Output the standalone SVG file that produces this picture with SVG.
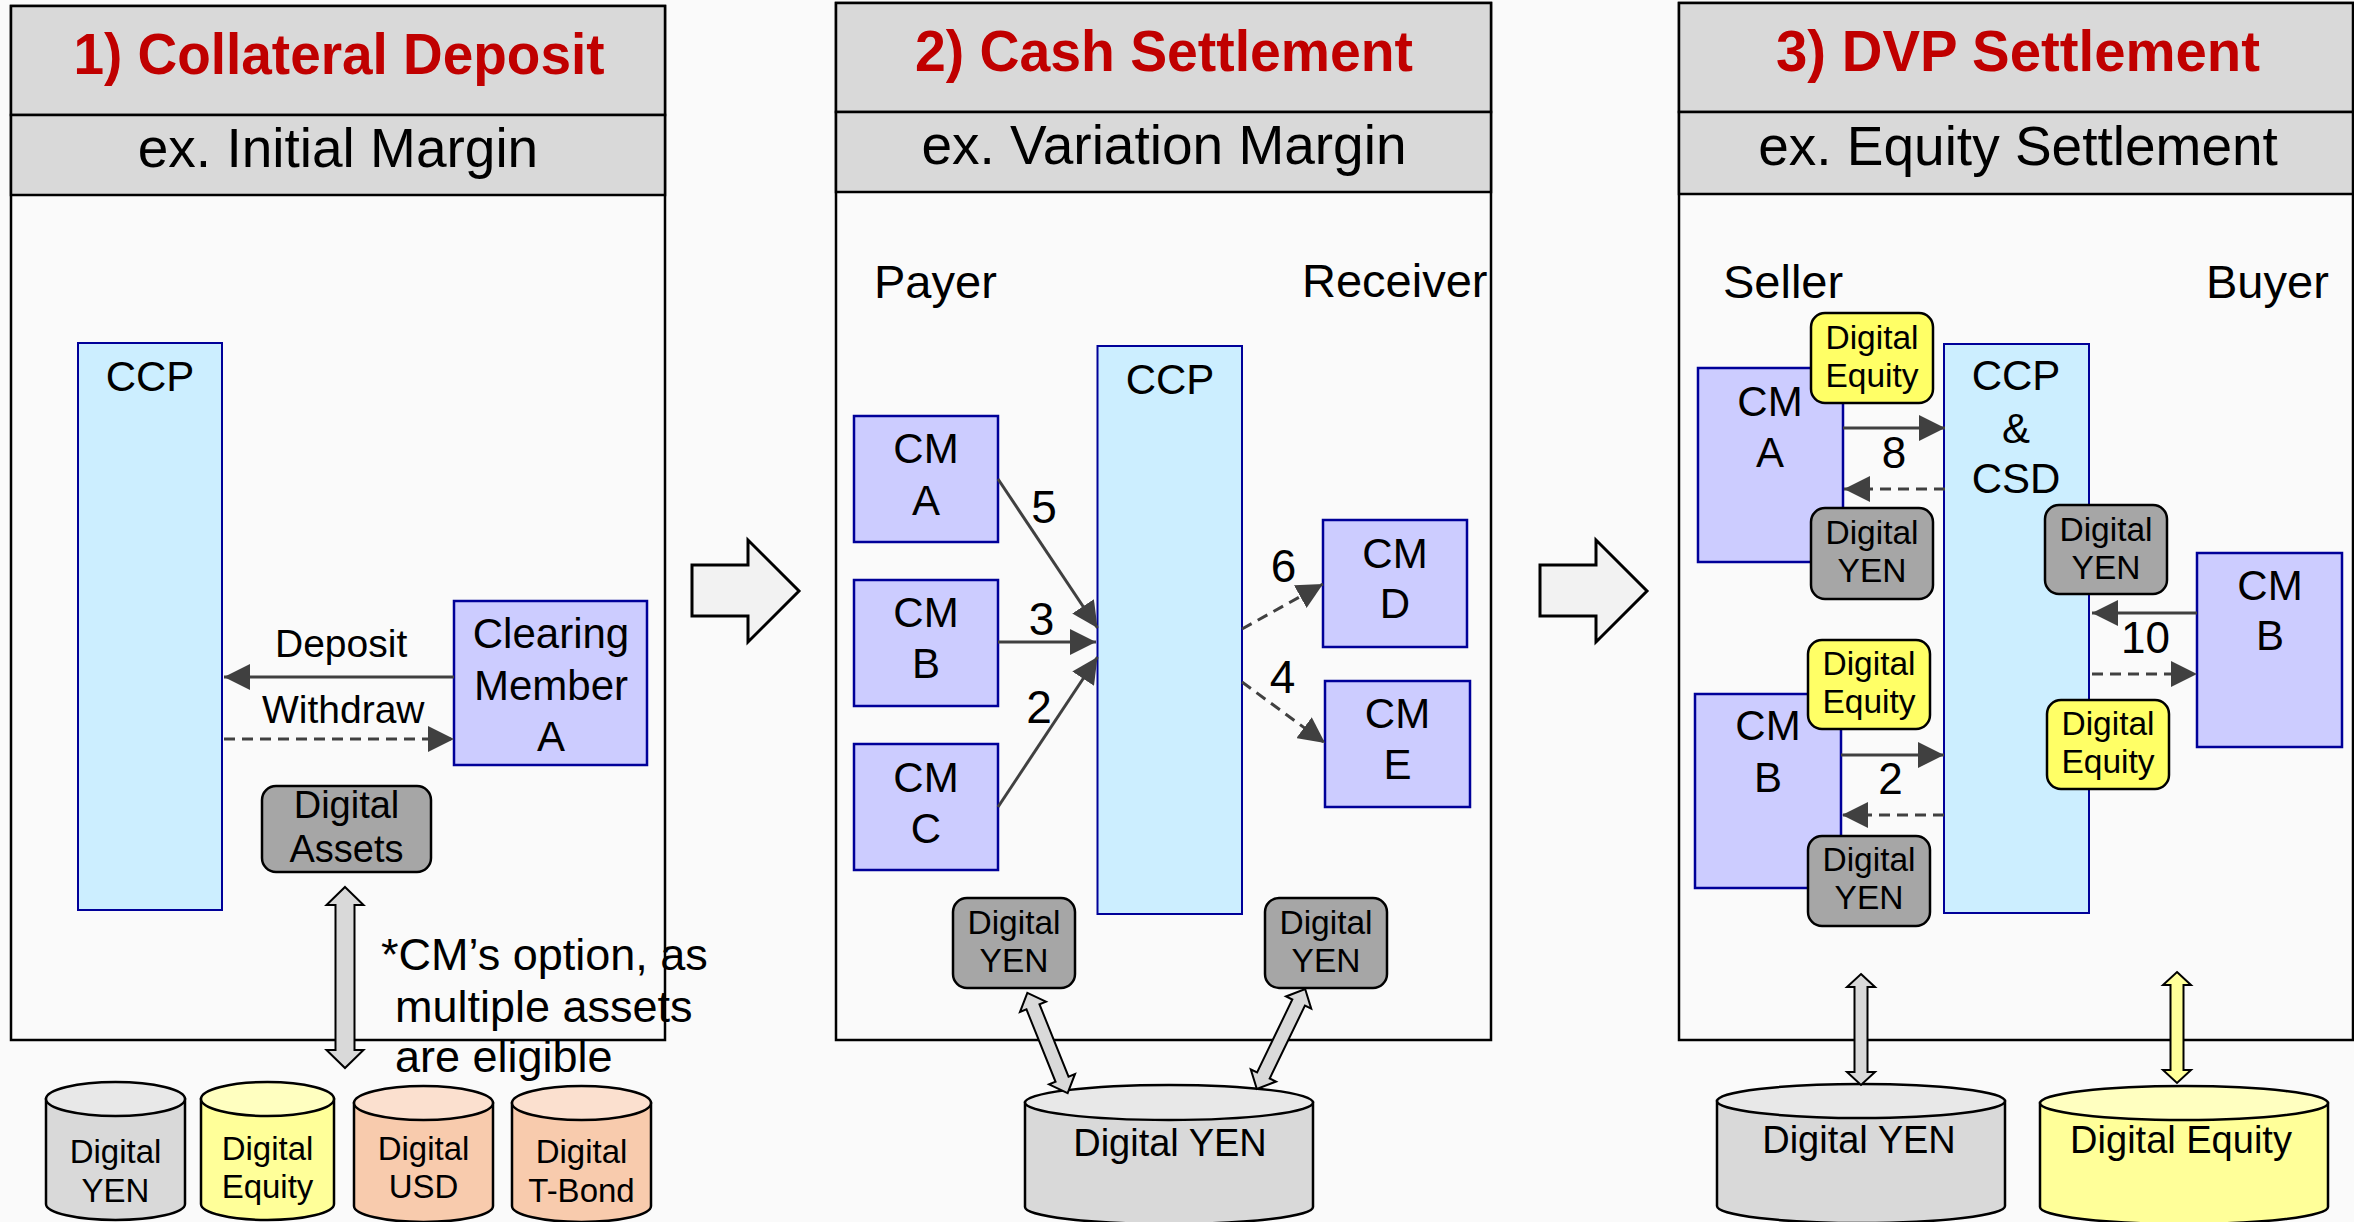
<svg xmlns="http://www.w3.org/2000/svg" width="2354" height="1222" viewBox="0 0 2354 1222">
  <style>
    text { font-family: "Liberation Sans", Arial, sans-serif; fill: #000; }
    .panel { fill: #fafafa; stroke: #000; stroke-width: 2.5; }
    .band { fill: #d9d9d9; stroke: #000; stroke-width: 2.5; }
    .title { font-size: 57px; font-weight: bold; fill: #c00000; text-anchor: middle; }
    .sub { font-size: 55px; text-anchor: middle; }
    .side { font-size: 47px; }
    .lbl { font-size: 42px; text-anchor: middle; }
    .tagtxt { font-size: 33.5px; text-anchor: middle; }
    .cyltxt { font-size: 33px; text-anchor: middle; }
    .bigtxt { font-size: 38px; text-anchor: middle; }
    .num { font-size: 46px; text-anchor: middle; }
    .num3 { font-size: 44px; text-anchor: middle; }
    .small { font-size: 39px; }
    .note { font-size: 45px; }
    .cm { fill: #ccccff; stroke: #000099; stroke-width: 2.5; }
    .ccp { fill: #cceeff; stroke: #000099; stroke-width: 2; }
    .tagY { fill: #ffff66; stroke: #000; stroke-width: 2.5; }
    .tagG { fill: #a6a6a6; stroke: #000; stroke-width: 2.5; }
    .flow { fill: none; stroke: #404040; stroke-width: 3; marker-end: url(#head); }
    .dash { stroke-dasharray: 11 7; }
    .dbl { stroke: #000; stroke-width: 2; stroke-linejoin: miter; }
    .cyl { stroke: #000; stroke-width: 2.5; }
    .block { fill: #f2f2f2; stroke: #000; stroke-width: 3; }
  </style>
  <defs>
    <marker id="head" viewBox="0 0 26 26" refX="26" refY="13" markerWidth="26" markerHeight="26" markerUnits="userSpaceOnUse" orient="auto">
      <path d="M0,0 L26,13 L0,26 Z" fill="#404040"/>
    </marker>
  </defs>

  <rect width="2354" height="1222" fill="#fafafa"/>

  <!-- panel frames with header bands -->
  <g id="panel-1">
    <rect class="panel" x="11" y="6" width="654" height="1034"/>
    <rect class="band" x="11" y="6" width="654" height="109"/>
    <rect class="band" x="11" y="115" width="654" height="80"/>
    <text class="title" x="339" y="74" textLength="531" lengthAdjust="spacingAndGlyphs">1) Collateral Deposit</text>
    <text class="sub" x="338" y="167">ex. Initial Margin</text>
  </g>
  <g id="panel-2">
    <rect class="panel" x="836" y="3" width="655" height="1037"/>
    <rect class="band" x="836" y="3" width="655" height="109"/>
    <rect class="band" x="836" y="112" width="655" height="80"/>
    <text class="title" x="1164" y="71" textLength="498" lengthAdjust="spacingAndGlyphs">2) Cash Settlement</text>
    <text class="sub" x="1164" y="164">ex. Variation Margin</text>
    <text class="side" x="874" y="298">Payer</text>
    <text class="side" x="1302" y="297">Receiver</text>
  </g>
  <g id="panel-3">
    <rect class="panel" x="1679" y="3" width="674" height="1037"/>
    <rect class="band" x="1679" y="3" width="674" height="109"/>
    <rect class="band" x="1679" y="112" width="674" height="82"/>
    <text class="title" x="2018" y="71" textLength="484" lengthAdjust="spacingAndGlyphs">3) DVP Settlement</text>
    <text class="sub" x="2018" y="165">ex. Equity Settlement</text>
    <text class="side" x="1723" y="298">Seller</text>
    <text class="side" x="2206" y="298">Buyer</text>
  </g>

  <!-- step arrows between panels -->
  <g id="step-arrow-1">
    <polygon class="block" points="692,565 748,565 748,540 799,591 748,642 748,616 692,616"/>
  </g>
  <g id="step-arrow-2">
    <polygon class="block" points="1540,565 1596,565 1596,540 1647,591 1596,642 1596,616 1540,616"/>
  </g>

  <!-- panel 1 nodes -->
  <g id="p1-ccp">
    <rect class="ccp" x="78" y="343" width="144" height="567"/>
    <text class="lbl" x="150" y="391">CCP</text>
  </g>
  <g id="p1-clearing-member-a">
    <rect class="cm" x="454" y="601" width="193" height="164"/>
    <text class="lbl" x="551" y="648">Clearing</text>
    <text class="lbl" x="551" y="700">Member</text>
    <text class="lbl" x="551" y="751">A</text>
  </g>
  <g id="p1-digital-assets">
    <rect class="tagG" x="262" y="786" width="169" height="86" rx="14"/>
    <text class="bigtxt" x="346.5" y="818">Digital</text>
    <text class="bigtxt" x="346.5" y="862">Assets</text>
  </g>
  <g id="p1-note">
    <text class="note" x="381" y="970">*CM’s option, as</text>
    <text class="note" x="395" y="1022">multiple assets</text>
    <text class="note" x="395" y="1072">are eligible</text>
  </g>
  <g id="p1-db-yen">
    <path class="cyl" fill="#d9d9d9" d="M46,1099 V1204 A69.5,16 0 0 0 185,1204 V1099 Z"/>
    <ellipse class="cyl" fill="#e8e8e8" cx="115.5" cy="1099" rx="69.5" ry="17"/>
    <text class="cyltxt" x="115.5" y="1163">Digital</text>
    <text class="cyltxt" x="115.5" y="1202">YEN</text>
  </g>
  <g id="p1-db-equity">
    <path class="cyl" fill="#ffff99" d="M201,1099 V1204 A66.5,16 0 0 0 334,1204 V1099 Z"/>
    <ellipse class="cyl" fill="#ffffc0" cx="267.5" cy="1099" rx="66.5" ry="17"/>
    <text class="cyltxt" x="267.5" y="1160">Digital</text>
    <text class="cyltxt" x="267.5" y="1198">Equity</text>
  </g>
  <g id="p1-db-usd">
    <path class="cyl" fill="#f8cbad" d="M354,1103 V1206 A69.5,16 0 0 0 493,1206 V1103 Z"/>
    <ellipse class="cyl" fill="#fbe0cf" cx="423.5" cy="1103" rx="69.5" ry="17"/>
    <text class="cyltxt" x="423.5" y="1160">Digital</text>
    <text class="cyltxt" x="423.5" y="1198">USD</text>
  </g>
  <g id="p1-db-tbond">
    <path class="cyl" fill="#f8cbad" d="M512,1103 V1206 A69.5,16 0 0 0 651,1206 V1103 Z"/>
    <ellipse class="cyl" fill="#fbe0cf" cx="581.5" cy="1103" rx="69.5" ry="17"/>
    <text class="cyltxt" x="581.5" y="1163">Digital</text>
    <text class="cyltxt" x="581.5" y="1202">T-Bond</text>
  </g>

  <!-- panel 2 nodes -->
  <g id="p2-ccp">
    <rect class="ccp" x="1097.5" y="346" width="144.5" height="568"/>
    <text class="lbl" x="1170" y="394">CCP</text>
  </g>
  <g id="p2-cm-a">
    <rect class="cm" x="854" y="416" width="144" height="126"/>
    <text class="lbl" x="926" y="463">CM</text>
    <text class="lbl" x="926" y="515">A</text>
  </g>
  <g id="p2-cm-b">
    <rect class="cm" x="854" y="580" width="144" height="126"/>
    <text class="lbl" x="926" y="627">CM</text>
    <text class="lbl" x="926" y="678">B</text>
  </g>
  <g id="p2-cm-c">
    <rect class="cm" x="854" y="744" width="144" height="126"/>
    <text class="lbl" x="926" y="792">CM</text>
    <text class="lbl" x="926" y="843">C</text>
  </g>
  <g id="p2-cm-d">
    <rect class="cm" x="1323" y="520" width="144" height="127"/>
    <text class="lbl" x="1395" y="568">CM</text>
    <text class="lbl" x="1395" y="618">D</text>
  </g>
  <g id="p2-cm-e">
    <rect class="cm" x="1325" y="681" width="145" height="126"/>
    <text class="lbl" x="1397.5" y="728">CM</text>
    <text class="lbl" x="1397.5" y="779">E</text>
  </g>
  <g id="p2-yen-left">
    <rect class="tagG" x="953" y="898" width="122" height="90" rx="14"/>
    <text class="tagtxt" x="1014" y="934">Digital</text>
    <text class="tagtxt" x="1014" y="972">YEN</text>
  </g>
  <g id="p2-yen-right">
    <rect class="tagG" x="1265" y="898" width="122" height="90" rx="14"/>
    <text class="tagtxt" x="1326" y="934">Digital</text>
    <text class="tagtxt" x="1326" y="972">YEN</text>
  </g>
  <g id="p2-db-yen">
    <path class="cyl" fill="#d9d9d9" d="M1025,1102.5 V1207 A144,17 0 0 0 1313,1207 V1102.5 Z"/>
    <ellipse class="cyl" fill="#e8e8e8" cx="1169" cy="1102.5" rx="144" ry="17.5"/>
    <text class="bigtxt" x="1170" y="1156">Digital YEN</text>
  </g>

  <!-- panel 3 nodes -->
  <g id="p3-ccp-csd">
    <rect class="ccp" x="1944" y="344" width="145" height="569"/>
    <text class="lbl" x="2016" y="390">CCP</text>
    <text class="lbl" x="2016" y="443">&amp;</text>
    <text class="lbl" x="2016" y="493">CSD</text>
  </g>
  <g id="p3-cm-a">
    <rect class="cm" x="1698" y="368" width="145" height="194"/>
    <text class="lbl" x="1770" y="416">CM</text>
    <text class="lbl" x="1770" y="467">A</text>
  </g>
  <g id="p3-cm-b-seller">
    <rect class="cm" x="1695" y="694" width="146" height="194"/>
    <text class="lbl" x="1768" y="740">CM</text>
    <text class="lbl" x="1768" y="792">B</text>
  </g>
  <g id="p3-cm-b-buyer">
    <rect class="cm" x="2197" y="553" width="145" height="194"/>
    <text class="lbl" x="2270" y="600">CM</text>
    <text class="lbl" x="2270" y="650">B</text>
  </g>
  <g id="p3-equity-a">
    <rect class="tagY" x="1811" y="313" width="122" height="90" rx="14"/>
    <text class="tagtxt" x="1872" y="349">Digital</text>
    <text class="tagtxt" x="1872" y="387">Equity</text>
  </g>
  <g id="p3-yen-a">
    <rect class="tagG" x="1811" y="508" width="122" height="91" rx="14"/>
    <text class="tagtxt" x="1872" y="544">Digital</text>
    <text class="tagtxt" x="1872" y="582">YEN</text>
  </g>
  <g id="p3-yen-buyer">
    <rect class="tagG" x="2045" y="505" width="122" height="89" rx="14"/>
    <text class="tagtxt" x="2106" y="541">Digital</text>
    <text class="tagtxt" x="2106" y="579">YEN</text>
  </g>
  <g id="p3-equity-b">
    <rect class="tagY" x="1808" y="640" width="122" height="89" rx="14"/>
    <text class="tagtxt" x="1869" y="675">Digital</text>
    <text class="tagtxt" x="1869" y="713">Equity</text>
  </g>
  <g id="p3-yen-b">
    <rect class="tagG" x="1808" y="836" width="122" height="90" rx="14"/>
    <text class="tagtxt" x="1869" y="871">Digital</text>
    <text class="tagtxt" x="1869" y="909">YEN</text>
  </g>
  <g id="p3-equity-buyer">
    <rect class="tagY" x="2047" y="700" width="122" height="89" rx="14"/>
    <text class="tagtxt" x="2108" y="735">Digital</text>
    <text class="tagtxt" x="2108" y="773">Equity</text>
  </g>
  <g id="p3-db-yen">
    <path class="cyl" fill="#d9d9d9" d="M1717,1101 V1206 A144,17 0 0 0 2005,1206 V1101 Z"/>
    <ellipse class="cyl" fill="#e8e8e8" cx="1861" cy="1101" rx="144" ry="17"/>
    <text class="bigtxt" x="1859" y="1153">Digital YEN</text>
  </g>
  <g id="p3-db-equity">
    <path class="cyl" fill="#ffff99" d="M2040,1103 V1207 A144,17 0 0 0 2328,1207 V1103 Z"/>
    <ellipse class="cyl" fill="#ffffc0" cx="2184" cy="1103" rx="144" ry="17"/>
    <text class="bigtxt" x="2181" y="1153">Digital Equity</text>
  </g>

  <!-- connectors -->
  <g id="connectors">
    <!-- panel 1 -->
    <line class="flow" x1="454" y1="677" x2="224" y2="677"/>
    <text class="small" x="275" y="657">Deposit</text>
    <line class="flow dash" x1="224" y1="739" x2="454" y2="739"/>
    <text class="small" x="262" y="723">Withdraw</text>
    <path class="dbl" fill="#d9d9d9" d="M345,887 L363.5,905 L354.5,905 L354.5,1050 L363.5,1050 L345,1068 L326.5,1050 L335.5,1050 L335.5,905 L326.5,905 Z"/>

    <!-- panel 2 -->
    <line class="flow" x1="998" y1="479" x2="1097.5" y2="628"/>
    <text class="num" x="1044" y="523">5</text>
    <line class="flow" x1="998" y1="642" x2="1096" y2="642"/>
    <text class="num" x="1041.5" y="635">3</text>
    <line class="flow" x1="998" y1="807" x2="1097.5" y2="657"/>
    <text class="num" x="1039" y="723">2</text>
    <line class="flow dash" x1="1242" y1="629" x2="1323" y2="584"/>
    <text class="num" x="1283.5" y="582">6</text>
    <line class="flow dash" x1="1242" y1="682" x2="1325" y2="743"/>
    <text class="num" x="1282.5" y="693">4</text>
    <path class="dbl" fill="#d9d9d9" transform="translate(1047.5,1043) rotate(-21.9)" d="M0,-54 L14,-39 L7,-39 L7,39 L14,39 L0,54 L-14,39 L-7,39 L-7,-39 L-14,-39 Z"/>
    <path class="dbl" fill="#d9d9d9" transform="translate(1281,1039) rotate(25.8)" d="M0,-55.5 L14,-40.5 L7,-40.5 L7,40.5 L14,40.5 L0,55.5 L-14,40.5 L-7,40.5 L-7,-40.5 L-14,-40.5 Z"/>

    <!-- panel 3 -->
    <line class="flow" x1="1843" y1="428" x2="1945" y2="428"/>
    <text class="num3" x="1894" y="468">8</text>
    <line class="flow dash" x1="1945" y1="489" x2="1844" y2="489"/>
    <line class="flow" x1="1841" y1="755" x2="1944" y2="755"/>
    <text class="num3" x="1890.5" y="794">2</text>
    <line class="flow dash" x1="1944" y1="815" x2="1842" y2="815"/>
    <line class="flow" x1="2197" y1="613" x2="2092" y2="613"/>
    <text class="num3" x="2145.5" y="653">10</text>
    <line class="flow dash" x1="2092" y1="674" x2="2197" y2="674"/>
    <path class="dbl" fill="#d9d9d9" d="M1861,974 L1875,987 L1867.5,987 L1867.5,1072 L1875,1072 L1861,1085 L1847,1072 L1854.5,1072 L1854.5,987 L1847,987 Z"/>
    <path class="dbl" fill="#ffff99" d="M2177,972 L2191,985 L2183.5,985 L2183.5,1070 L2191,1070 L2177,1083 L2163,1070 L2170.5,1070 L2170.5,985 L2163,985 Z"/>
  </g>
</svg>
